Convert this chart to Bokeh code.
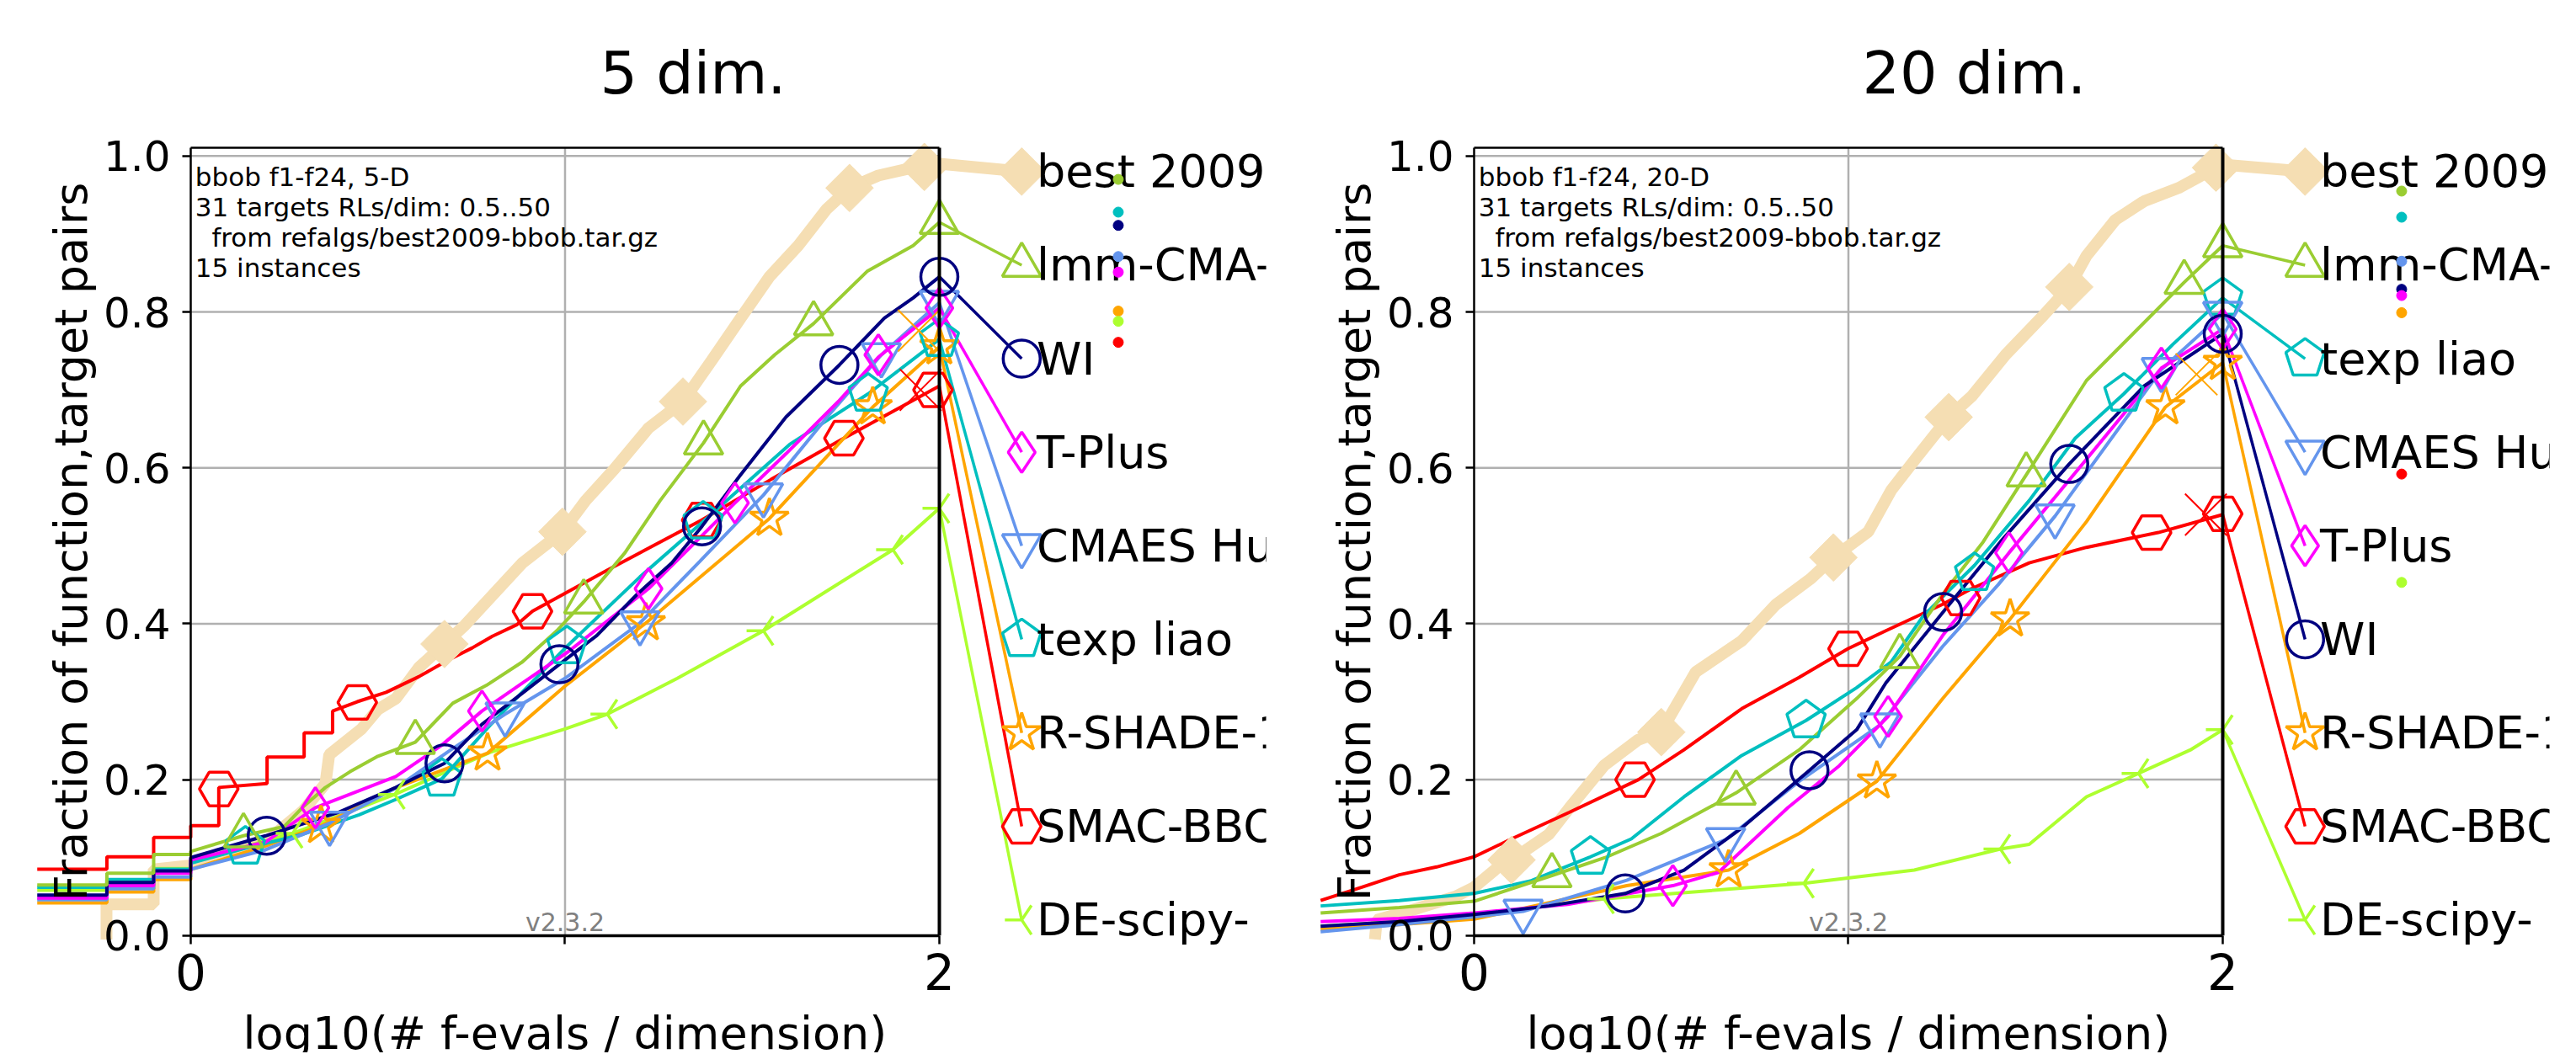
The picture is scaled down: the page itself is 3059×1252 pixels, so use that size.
import math
from bokeh.plotting import figure
from bokeh.models import Range1d, FixedTicker, PrintfTickFormatter
from bokeh.layouts import row
from bokeh.embed import file_html
from bokeh.resources import INLINE
from bokeh.core.properties import value

# ---------------- data ----------------
KEYS = ["best", "lmm", "wi", "tplus", "cmaes", "texp", "rshade", "smac", "de"]
NAMES = ["best 2009", "lmm-CMA-ES", "WI", "T-Plus", "CMAES Hutter", "texp liao",
         "R-SHADE-10e2", "SMAC-BBOB", "DE-scipy-"]
COLORS = ["#f5deb3", "#9acd32", "#000080", "#ff00ff", "#6495ed", "#00bfbf",
          "#ffa500", "#ff0000", "#adff2f"]
MARKERS = ["square", "triangle", "circle", "diamond", "inverted_triangle",
           "pentagon", "star", "hex", "y"]

XTICKS = [0, 1, 2]
YTICKS = [0.0, 0.2, 0.4, 0.6, 0.8, 1.0]
LEGEND_Y = [0.98, 0.86, 0.74, 0.62, 0.50, 0.38, 0.26, 0.14, 0.02]

INFO_5 = ["bbob f1-f24, 5-D", "31 targets RLs/dim: 0.5..50",
          "from refalgs/best2009-bbob.tar.gz", "15 instances"]
INFO_20 = ["bbob f1-f24, 20-D", "31 targets RLs/dim: 0.5..50",
           "from refalgs/best2009-bbob.tar.gz", "15 instances"]
INFO_Y = [0.973, 0.934, 0.8955, 0.857]
VERSION = "v2.3.2"

# ----- 5-D curves -----
x5_best = [-0.225, -0.225, -0.099, -0.099, 0.0, 0.1, 0.2, 0.3, 0.36, 0.37, 0.456, 0.5, 0.548, 0.61, 0.678,
           0.732, 0.809, 0.886, 0.993, 1.055, 1.131, 1.223, 1.315, 1.392, 1.469, 1.546, 1.623, 1.699,
           1.76, 1.837, 1.93, 2.0]
y5_best = [-0.005, 0.04, 0.04, 0.085, 0.09, 0.105, 0.12, 0.16, 0.195, 0.232, 0.265, 0.29, 0.304, 0.344,
           0.374, 0.398, 0.438, 0.478, 0.518, 0.558, 0.598, 0.651, 0.685, 0.738, 0.792, 0.845, 0.885,
           0.932, 0.959, 0.975, 0.985, 0.99]
mx5_best = [0.678, 0.993, 1.315, 1.76, 1.96]
my5_best = [0.374, 0.518, 0.685, 0.959, 0.986]

x5_lmm = [-0.41, -0.224, -0.224, -0.099, -0.099, 0.0, 0.0, 0.141, 0.25, 0.3, 0.36, 0.425, 0.5, 0.6, 0.7,
          0.79, 0.886, 0.978, 1.05, 1.16, 1.254, 1.37, 1.469, 1.56, 1.664, 1.807, 1.93, 2.0]
y5_lmm = [0.065, 0.065, 0.08, 0.08, 0.104, 0.104, 0.108, 0.128, 0.14, 0.165, 0.19, 0.21, 0.23, 0.248,
          0.298, 0.321, 0.351, 0.391, 0.428, 0.491, 0.558, 0.632, 0.705, 0.745, 0.785, 0.852, 0.885, 0.915]
mx5_lmm = [0.141, 0.6, 1.05, 1.37, 1.664, 2.0]
my5_lmm = [0.128, 0.248, 0.428, 0.632, 0.785, 0.915]

x5_wi = [-0.41, -0.224, -0.224, -0.099, -0.099, 0.0, 0.0, 0.2, 0.394, 0.548, 0.678, 0.778, 0.886, 0.985,
         1.085, 1.193, 1.285, 1.366, 1.469, 1.59, 1.733, 1.853, 1.93, 2.0]
y5_wi = [0.052, 0.052, 0.068, 0.068, 0.083, 0.083, 0.1, 0.128, 0.158, 0.19, 0.221, 0.271, 0.311, 0.348,
         0.385, 0.438, 0.478, 0.525, 0.591, 0.665, 0.732, 0.792, 0.818, 0.845]
mx5_wi = [0.203, 0.678, 0.985, 1.366, 1.733, 2.0]
my5_wi = [0.128, 0.221, 0.348, 0.525, 0.732, 0.845]

x5_tplus = [-0.41, -0.224, -0.224, -0.099, -0.099, 0.0, 0.0, 0.2, 0.333, 0.548, 0.67, 0.778, 0.886, 1.008,
            1.223, 1.454, 1.59, 1.73, 1.837, 2.0]
y5_tplus = [0.048, 0.048, 0.064, 0.064, 0.08, 0.08, 0.097, 0.12, 0.164, 0.204, 0.244, 0.288, 0.324, 0.364,
            0.445, 0.555, 0.618, 0.685, 0.742, 0.805]
mx5_tplus = [0.333, 0.778, 1.223, 1.454, 1.837, 2.0]
my5_tplus = [0.164, 0.288, 0.445, 0.555, 0.745, 0.805]

x5_cmaes = [-0.41, -0.224, -0.224, -0.099, -0.099, 0.0, 0.0, 0.2, 0.371, 0.55, 0.7, 0.84, 1.0, 1.2, 1.36,
            1.53, 1.7, 1.845, 2.0]
y5_cmaes = [0.046, 0.046, 0.06, 0.06, 0.075, 0.075, 0.085, 0.11, 0.144, 0.19, 0.24, 0.284, 0.33, 0.401,
            0.48, 0.565, 0.665, 0.745, 0.812]
mx5_cmaes = [0.371, 0.84, 1.2, 1.53, 1.845, 2.0]
my5_cmaes = [0.144, 0.284, 0.401, 0.565, 0.745, 0.812]

x5_texp = [-0.41, -0.224, -0.224, -0.099, -0.099, 0.0, 0.0, 0.146, 0.3, 0.45, 0.55, 0.671, 0.8, 1.005, 1.2,
           1.369, 1.6, 1.81, 2.0]
y5_texp = [0.062, 0.062, 0.072, 0.072, 0.085, 0.085, 0.093, 0.112, 0.13, 0.155, 0.175, 0.201, 0.27, 0.371,
           0.46, 0.531, 0.63, 0.695, 0.765]
mx5_texp = [0.146, 0.671, 1.005, 1.369, 1.81, 2.0]
my5_texp = [0.114, 0.201, 0.371, 0.531, 0.695, 0.765]

x5_rshade = [-0.41, -0.224, -0.224, -0.099, -0.099, 0.0, 0.0, 0.2, 0.348, 0.55, 0.793, 1.0, 1.216, 1.546,
             1.822, 2.0]
y5_rshade = [0.042, 0.042, 0.056, 0.056, 0.072, 0.072, 0.085, 0.115, 0.141, 0.19, 0.234, 0.32, 0.401, 0.535,
             0.678, 0.755]
mx5_rshade = [0.348, 0.793, 1.216, 1.546, 1.822, 2.0]
my5_rshade = [0.141, 0.234, 0.401, 0.535, 0.678, 0.755]

x5_smac = [-0.41, -0.224, -0.224, -0.099, -0.099, 0.0, 0.0, 0.075, 0.075, 0.204, 0.204, 0.303, 0.303, 0.379,
           0.379, 0.445, 0.522, 0.609, 0.686, 0.752, 0.806, 0.872, 0.913, 1.114, 1.365, 1.55, 1.745, 2.0]
y5_smac = [0.085, 0.085, 0.101, 0.101, 0.126, 0.126, 0.141, 0.141, 0.19, 0.195, 0.229, 0.229, 0.26, 0.26,
           0.288, 0.30, 0.312, 0.332, 0.353, 0.369, 0.384, 0.399, 0.416, 0.469, 0.533, 0.585, 0.638, 0.705]
mx5_smac = [0.075, 0.445, 0.913, 1.365, 1.745, 1.983]
my5_smac = [0.188, 0.299, 0.416, 0.533, 0.638, 0.70]

x5_de = [-0.41, -0.224, -0.224, -0.099, -0.099, 0.0, 0.0, 0.272, 0.545, 0.8, 1.0, 1.113, 1.3, 1.53, 1.876, 2.0]
y5_de = [0.058, 0.058, 0.07, 0.07, 0.086, 0.086, 0.095, 0.131, 0.181, 0.235, 0.265, 0.284, 0.33, 0.391,
         0.495, 0.548]
mx5_de = [0.272, 0.545, 1.113, 1.53, 1.876, 2.0]
my5_de = [0.131, 0.181, 0.284, 0.391, 0.495, 0.548]

# ----- 20-D curves -----
x20_best = [-0.265, -0.26, -0.15, -0.05, 0.0, 0.07, 0.1, 0.2, 0.255, 0.347, 0.438, 0.5, 0.592, 0.715, 0.807,
            0.9, 0.96, 1.053, 1.114, 1.19, 1.268, 1.33, 1.42, 1.514, 1.59, 1.636, 1.713, 1.79, 1.882,
            1.982, 2.0]
y20_best = [-0.005, 0.02, 0.035, 0.05, 0.062, 0.09, 0.097, 0.13, 0.164, 0.218, 0.251, 0.262, 0.338, 0.378,
            0.425, 0.458, 0.485, 0.518, 0.571, 0.618, 0.665, 0.692, 0.745, 0.792, 0.832, 0.872, 0.918,
            0.942, 0.959, 0.985, 0.989]
mx20_best = [0.1, 0.5, 0.96, 1.268, 1.59, 1.982]
my20_best = [0.097, 0.261, 0.485, 0.665, 0.832, 0.985]

x20_lmm = [-0.41, -0.2, 0.0, 0.208, 0.35, 0.5, 0.7, 0.868, 1.022, 1.137, 1.252, 1.36, 1.475, 1.636, 1.897, 2.0]
y20_lmm = [0.029, 0.036, 0.044, 0.077, 0.1, 0.131, 0.183, 0.238, 0.304, 0.358, 0.438, 0.505, 0.591, 0.712,
           0.838, 0.885]
mx20_lmm = [0.208, 0.7, 1.137, 1.475, 1.897, 2.0]
my20_lmm = [0.077, 0.183, 0.358, 0.591, 0.838, 0.885]

x20_wi = [-0.41, -0.2, 0.0, 0.2, 0.404, 0.561, 0.715, 0.896, 1.022, 1.1, 1.253, 1.406, 1.59, 1.79, 2.0]
y20_wi = [0.012, 0.018, 0.027, 0.038, 0.054, 0.084, 0.138, 0.212, 0.264, 0.324, 0.415, 0.505, 0.605, 0.705,
          0.772]
mx20_wi = [0.404, 0.896, 1.253, 1.59, 2.0]
my20_wi = [0.054, 0.212, 0.415, 0.605, 0.772]

x20_tplus = [-0.41, -0.2, 0.0, 0.25, 0.531, 0.653, 0.838, 0.976, 1.106, 1.252, 1.429, 1.636, 1.836, 2.0]
y20_tplus = [0.018, 0.022, 0.029, 0.04, 0.064, 0.081, 0.164, 0.218, 0.281, 0.385, 0.491, 0.611, 0.728, 0.778]
mx20_tplus = [0.531, 1.106, 1.429, 1.836, 2.0]
my20_tplus = [0.064, 0.281, 0.491, 0.728, 0.778]

x20_cmaes = [-0.41, -0.2, 0.0, 0.131, 0.408, 0.672, 0.869, 1.084, 1.252, 1.4, 1.552, 1.836, 2.0]
y20_cmaes = [0.005, 0.014, 0.024, 0.031, 0.071, 0.123, 0.198, 0.27, 0.371, 0.45, 0.538, 0.726, 0.798]
mx20_cmaes = [0.131, 0.672, 1.084, 1.552, 1.836, 2.0]
my20_cmaes = [0.031, 0.123, 0.27, 0.538, 0.726, 0.798]

x20_texp = [-0.41, -0.2, 0.0, 0.15, 0.311, 0.42, 0.561, 0.715, 0.887, 1.022, 1.114, 1.2, 1.337, 1.483,
            1.606, 1.736, 1.866, 2.0]
y20_texp = [0.038, 0.045, 0.054, 0.07, 0.101, 0.124, 0.178, 0.231, 0.276, 0.318, 0.351, 0.41, 0.475, 0.558,
            0.638, 0.695, 0.758, 0.818]
mx20_texp = [0.311, 0.887, 1.337, 1.736, 2.0]
my20_texp = [0.101, 0.276, 0.465, 0.695, 0.818]

x20_rshade = [-0.41, -0.2, 0.0, 0.408, 0.68, 0.869, 1.076, 1.252, 1.432, 1.636, 1.847, 2.0]
y20_rshade = [0.008, 0.014, 0.021, 0.064, 0.084, 0.131, 0.198, 0.304, 0.406, 0.531, 0.678, 0.735]
mx20_rshade = [0.68, 1.076, 1.432, 1.847, 2.0]
my20_rshade = [0.084, 0.198, 0.406, 0.678, 0.735]

x20_smac = [-0.41, -0.3, -0.2, -0.1, 0.0, 0.1, 0.254, 0.439, 0.56, 0.715, 0.868, 0.999, 1.1, 1.252, 1.329,
            1.483, 1.636, 1.828, 2.0]
y20_smac = [0.045, 0.062, 0.078, 0.088, 0.101, 0.124, 0.158, 0.2, 0.238, 0.291, 0.331, 0.368, 0.391, 0.425,
            0.445, 0.478, 0.498, 0.517, 0.54]
mx20_smac = [0.43, 0.999, 1.3, 1.81, 2.0]
my20_smac = [0.2, 0.368, 0.433, 0.517, 0.541]

x20_de = [-0.41, -0.2, 0.0, 0.347, 0.881, 1.176, 1.406, 1.483, 1.636, 1.775, 1.913, 2.0]
y20_de = [0.012, 0.018, 0.027, 0.047, 0.067, 0.084, 0.111, 0.117, 0.178, 0.208, 0.238, 0.264]
mx20_de = [0.347, 0.881, 1.406, 1.775, 2.0]
my20_de = [0.047, 0.067, 0.111, 0.208, 0.264]

LEG5 = ["best", "lmm", "wi", "tplus", "cmaes", "texp", "rshade", "smac", "de"]
LEG20 = ["best", "lmm", "texp", "cmaes", "tplus", "wi", "rshade", "smac", "de"]

DOT_X = 2.478
DOT5_KEYS = ["lmm", "texp", "wi", "cmaes", "tplus", "rshade", "de", "smac"]
DOT5_Y = [0.970, 0.928, 0.911, 0.871, 0.851, 0.801, 0.788, 0.761]
DOT20_KEYS = ["lmm", "texp", "cmaes", "wi", "tplus", "rshade", "smac", "de"]
DOT20_Y = [0.955, 0.9215, 0.865, 0.829, 0.821, 0.799, 0.592, 0.453]

XM5_KEYS = ["smac", "rshade"]
XM5_X = [1.95, 1.945]
XM5_Y = [0.70, 0.776]
XM20_KEYS = ["smac", "rshade"]
XM20_X = [1.955, 1.93]
XM20_Y = [0.54, 0.72]

# ---------------- layout constants ----------------
H = 1250
TOP = 140
SPINE_TOP = 1.0106
PX_Y = 926.0
Y1 = SPINE_TOP + (175 - TOP) / PX_Y
X0, X1 = -0.4634, 2.8729
FRAME_W = 1483
FRAME_H = H - TOP
PX_X = FRAME_W / (X1 - X0)
Y0 = Y1 - FRAME_H / PX_Y
LEG_MX = 2.22
LEG_TX = 2.26
FONT = "DejaVu Sans"

SIZES = {"square": 40, "triangle": 46, "circle": 44, "diamond": 48, "inverted_triangle": 46,
         "star": 48, "hex": 46, "y": 40}

g = globals()


def curve(dim, key):
    return g["x%d_%s" % (dim, key)], g["y%d_%s" % (dim, key)]


def marks(dim, key):
    return g["mx%d_%s" % (dim, key)], g["my%d_%s" % (dim, key)]


def draw_markers(p, xs, ys, kind, color, lw=3.5):
    if kind == "pentagon":
        r = 24
        pxs, pys = [], []
        for x, y in zip(xs, ys):
            angs = [math.pi / 2 + k * 2 * math.pi / 5 for k in range(5)]
            pxs.append([x + r * math.cos(a) / PX_X for a in angs])
            pys.append([y + r * math.sin(a) / PX_Y for a in angs])
        p.patches(pxs, pys, fill_alpha=0, line_color=color, line_width=lw)
        return
    if kind == "square":
        p.scatter(xs, ys, marker="square", size=SIZES[kind], angle=math.pi / 4,
                  fill_color=color, line_color=color, line_width=1)
        return
    angle = -math.pi / 2 if kind == "y" else 0
    p.scatter(xs, ys, marker=kind, size=SIZES[kind], angle=angle, fill_alpha=0,
              line_color=color, line_width=lw)


def panel(dim, title, title_offset, info, leg_keys, dot_keys, dot_y, xm_keys, xm_x, xm_y,
          width, mbl, mbr):
    p = figure(width=width, height=H, x_range=Range1d(X0, X1), y_range=Range1d(Y0, Y1),
               output_backend="svg", toolbar_location=None,
               min_border_left=mbl, min_border_right=mbr, min_border_top=TOP, min_border_bottom=0,
               background_fill_color="white", border_fill_color="white")
    p.outline_line_color = None
    p.grid.visible = False

    p.title.text = title
    p.title.align = "left"
    p.title.offset = title_offset
    p.title.text_font = FONT
    p.title.text_font_size = "70px"
    p.title.text_font_style = "normal"
    p.title.text_color = "black"
    p.title.standoff = 26

    xa = p.xaxis[0]
    ya = p.yaxis[0]
    xa.fixed_location = 0
    ya.fixed_location = 0
    xa.bounds = (XTICKS[0], XTICKS[-1])
    ya.bounds = (0, SPINE_TOP)
    xa.ticker = FixedTicker(ticks=XTICKS)
    ya.ticker = FixedTicker(ticks=YTICKS)
    ya.formatter = PrintfTickFormatter(format="%.1f")
    xa.major_label_overrides = {1: ""}
    for ax in (xa, ya):
        ax.axis_line_color = "black"
        ax.major_tick_line_color = "black"
        ax.major_tick_out = 10
        ax.major_tick_in = 0
        ax.major_tick_line_width = 2.5
        ax.minor_tick_line_color = None
        ax.major_label_text_font = FONT
        ax.axis_label_text_font = FONT
        ax.axis_label_text_font_style = "normal"
        ax.axis_label_text_font_size = "54px"
        ax.axis_label_text_color = "black"
        ax.major_label_text_color = "black"
    xa.axis_line_width = 3.5
    ya.axis_line_width = 2.5
    xa.major_label_text_font_size = "58px"
    ya.major_label_text_font_size = "50px"
    xa.major_label_standoff = 12
    ya.major_label_standoff = 14
    xa.axis_label = "log10(# f-evals / dimension)"
    ya.axis_label = "Fraction of function,target pairs"
    xa.axis_label_standoff = 16
    ya.axis_label_standoff = 4

    # grid lines (only inside the axes box)
    gy = YTICKS[1:]
    p.segment(x0=[XTICKS[0]] * len(gy), y0=gy, x1=[XTICKS[-1]] * len(gy), y1=gy,
              line_color="#b0b0b0", line_width=2.5)
    p.segment(x0=[XTICKS[1]], y0=[0], x1=[XTICKS[1]], y1=[SPINE_TOP], line_color="#b0b0b0", line_width=2.5)

    # version text
    p.text(x=[XTICKS[1]], y=[0.0174], text=[VERSION], text_align="center", text_baseline="alphabetic",
           text_font=value(FONT), text_font_size="30px", text_color="#808080")

    # curves
    order = ["best"] + [k for k in KEYS if k != "best"][::-1]
    for key in order:
        i = KEYS.index(key)
        xs, ys = curve(dim, key)
        lw = 14 if key == "best" else 4
        yl = LEGEND_Y[leg_keys.index(key)]
        p.line(xs, ys, line_color=COLORS[i], line_width=lw)
        p.line([xs[-1], LEG_MX], [ys[-1], yl], line_color=COLORS[i], line_width=lw if key == "best" else 3.5)
    for key in order:
        i = KEYS.index(key)
        mx, my = marks(dim, key)
        yl = LEGEND_Y[leg_keys.index(key)]
        draw_markers(p, list(mx) + [LEG_MX], list(my) + [yl], MARKERS[i], COLORS[i])

    # median-run-length crosses
    p.scatter(xm_x, xm_y, marker="x", size=70, line_width=2,
              line_color=[COLORS[KEYS.index(k)] for k in xm_keys])

    # axes box: top and right spines
    p.segment(x0=[XTICKS[0]], y0=[SPINE_TOP], x1=[XTICKS[-1]], y1=[SPINE_TOP], line_color="black",
              line_width=2.5)
    p.segment(x0=[XTICKS[-1]], y0=[0], x1=[XTICKS[-1]], y1=[SPINE_TOP], line_color="black", line_width=4)

    # legend labels
    p.text(x=[LEG_TX] * len(leg_keys), y=LEGEND_Y, text=[NAMES[KEYS.index(k)] for k in leg_keys],
           text_baseline="middle", text_align="left", text_font=value(FONT), text_font_size="54px",
           text_color="black")

    # info text
    for j, line in enumerate(info):
        p.text(x=[0.012 + (0.044 if j == 2 else 0)], y=[INFO_Y[j]], text=[line], text_baseline="alphabetic",
               text_font=value(FONT), text_font_size="31px", text_color="black")

    # final-budget dots
    p.scatter([DOT_X] * len(dot_keys), dot_y, marker="circle", size=12,
              color=[COLORS[KEYS.index(k)] for k in dot_keys])
    return p


p1 = panel(5, "5 dim.", 692, INFO_5, LEG5, DOT5_KEYS, DOT5_Y, XM5_KEYS, XM5_X, XM5_Y, 1532, 20, 29)
p2 = panel(20, "20 dim.", 667, INFO_20, LEG20, DOT20_KEYS, DOT20_Y, XM20_KEYS, XM20_X, XM20_Y, 1515, 12, 20)

layout = row(p1, p2)
open("out.html", "w").write(file_html(layout, INLINE))
